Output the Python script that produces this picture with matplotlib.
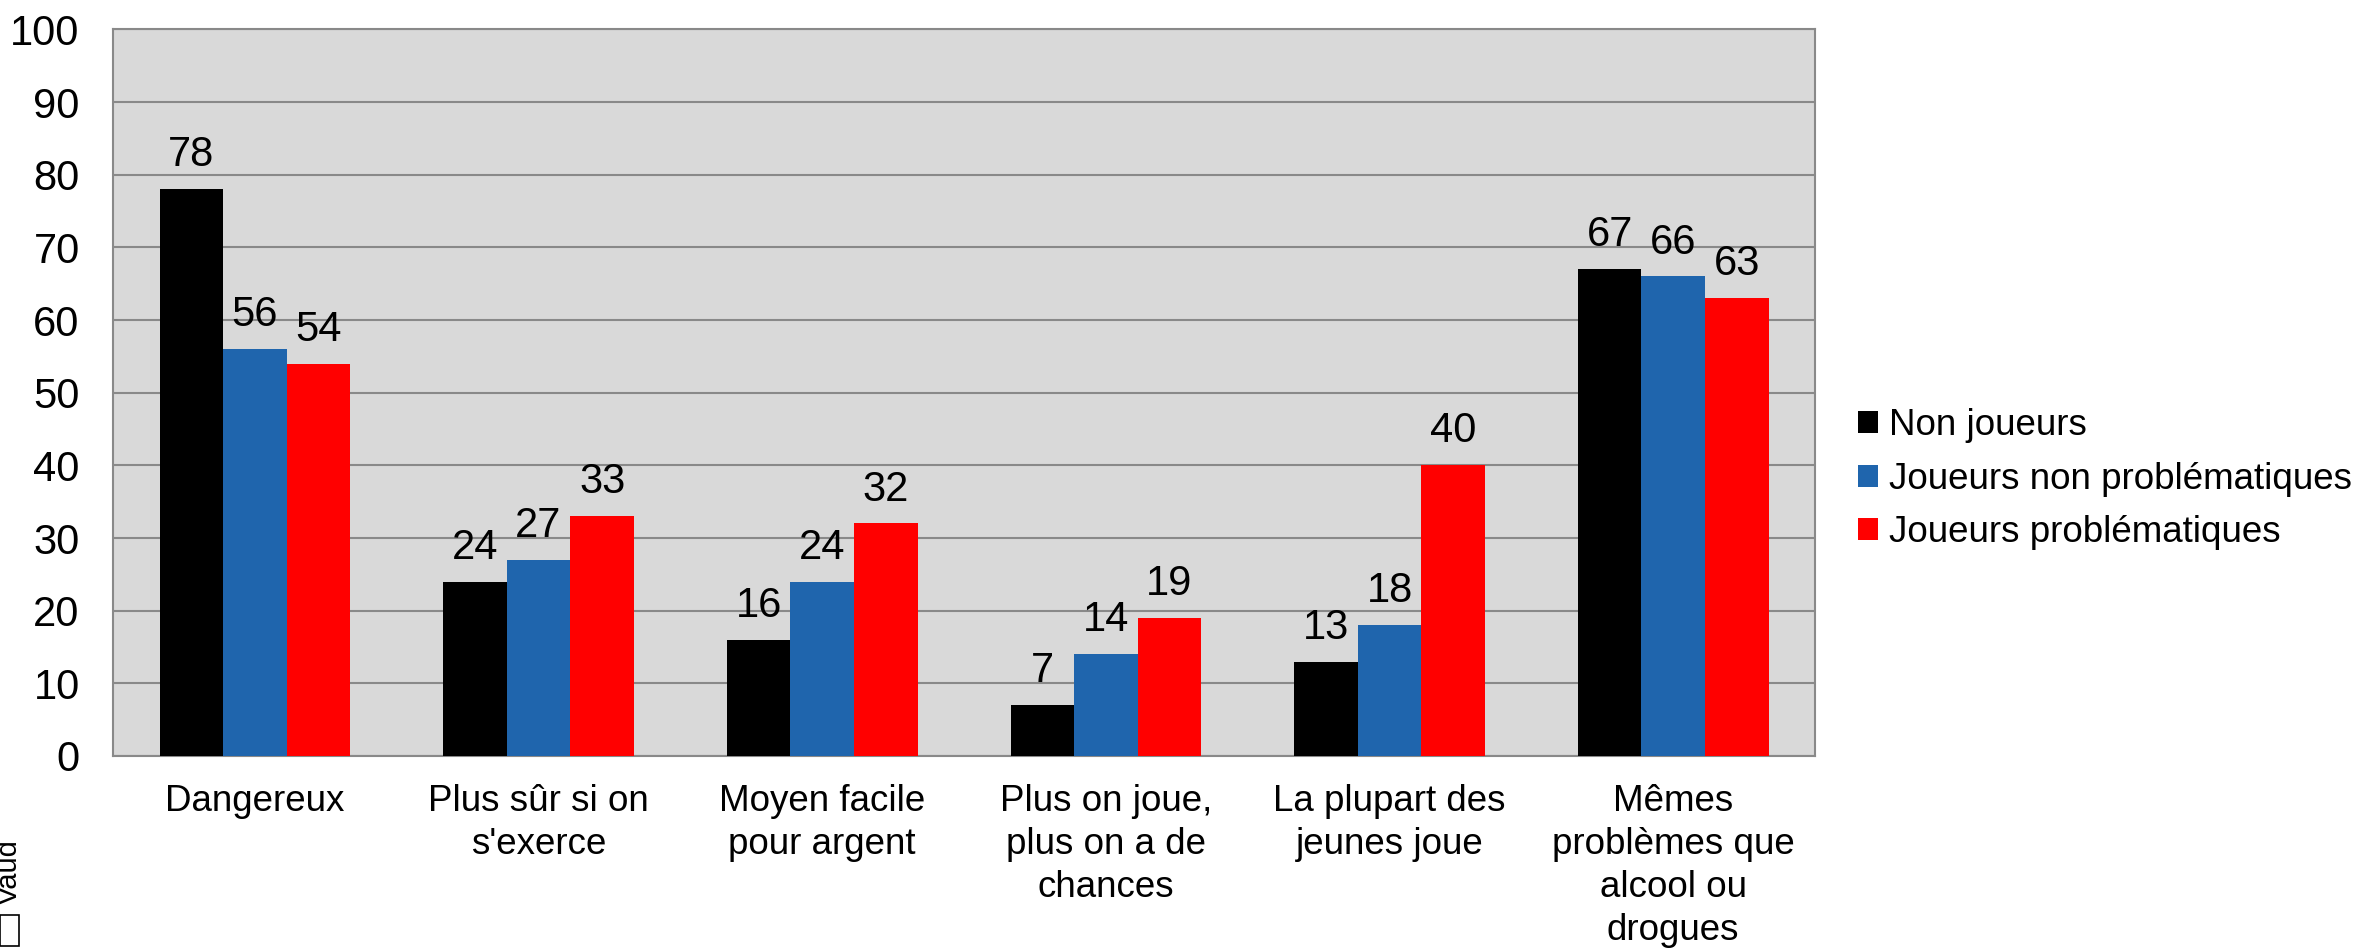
import numpy as np
import matplotlib.pyplot as plt
from matplotlib.patches import Rectangle

plt.rcParams['font.family'] = ['Liberation Sans', 'DejaVu Sans']

# Data
categories = ['Dangereux', "Plus sûr si on\ns'exerce", 'Moyen facile\npour argent',
              'Plus on joue,\nplus on a de\nchances', 'La plupart des\njeunes joue',
              'Mêmes\nproblèmes que\nalcool ou\ndrogues']
non_joueurs = [78, 24, 16, 7, 13, 67]
joueurs_non_prob = [56, 27, 24, 14, 18, 66]
joueurs_prob = [54, 33, 32, 19, 40, 63]
series_names = ['Non joueurs', 'Joueurs non problématiques', 'Joueurs problématiques']
colors = ['#000000', '#1F65AD', '#FF0000']

fig = plt.figure(figsize=(23.64, 9.49), dpi=100)
ax = fig.add_axes([0.0478, 0.2034, 0.7200, 0.7656])

x = np.arange(len(categories))
w = 0.224
series = [non_joueurs, joueurs_non_prob, joueurs_prob]
for i, (vals, name, c) in enumerate(zip(series, series_names, colors)):
    bars = ax.bar(x + (i - 1) * w, vals, width=w, color=c, label=name, zorder=3)
    ax.bar_label(bars, labels=[str(v) for v in vals], padding=10, fontsize=30)

ax.set_facecolor('#D9D9D9')
ax.set_xlim(-0.5, len(categories) - 0.5)
ax.set_ylim(0, 100)
ax.set_yticks(range(0, 101, 10))
ax.yaxis.grid(True, color='#898989', linewidth=1.5, zorder=0)
ax.set_axisbelow(True)
for s in ax.spines.values():
    s.set_color('#898989')
    s.set_linewidth(1.5)
ax.tick_params(axis='y', labelsize=30, length=0, pad=24)
ax.set_xticks(x)
ax.set_xticklabels(categories, fontsize=26.5, linespacing=1.3, va='top')
ax.tick_params(axis='x', length=0, pad=20)

leg = fig.legend(loc='center left', bbox_to_anchor=(0.772, 0.495), frameon=False,
                 fontsize=26.5, handlelength=0.55, handleheight=0.55, handletextpad=0.3,
                 labelspacing=0.5)

# Vaud logo
fig.text(-0.002, 0.046, 'Vaud', rotation=90, fontsize=21, va='bottom', ha='left')
fig.add_artist(Rectangle((0.0, 0.003), 0.008, 0.033, transform=fig.transFigure,
                         fill=False, edgecolor='black', linewidth=1.2))

fig.savefig('out.png', dpi=100)
